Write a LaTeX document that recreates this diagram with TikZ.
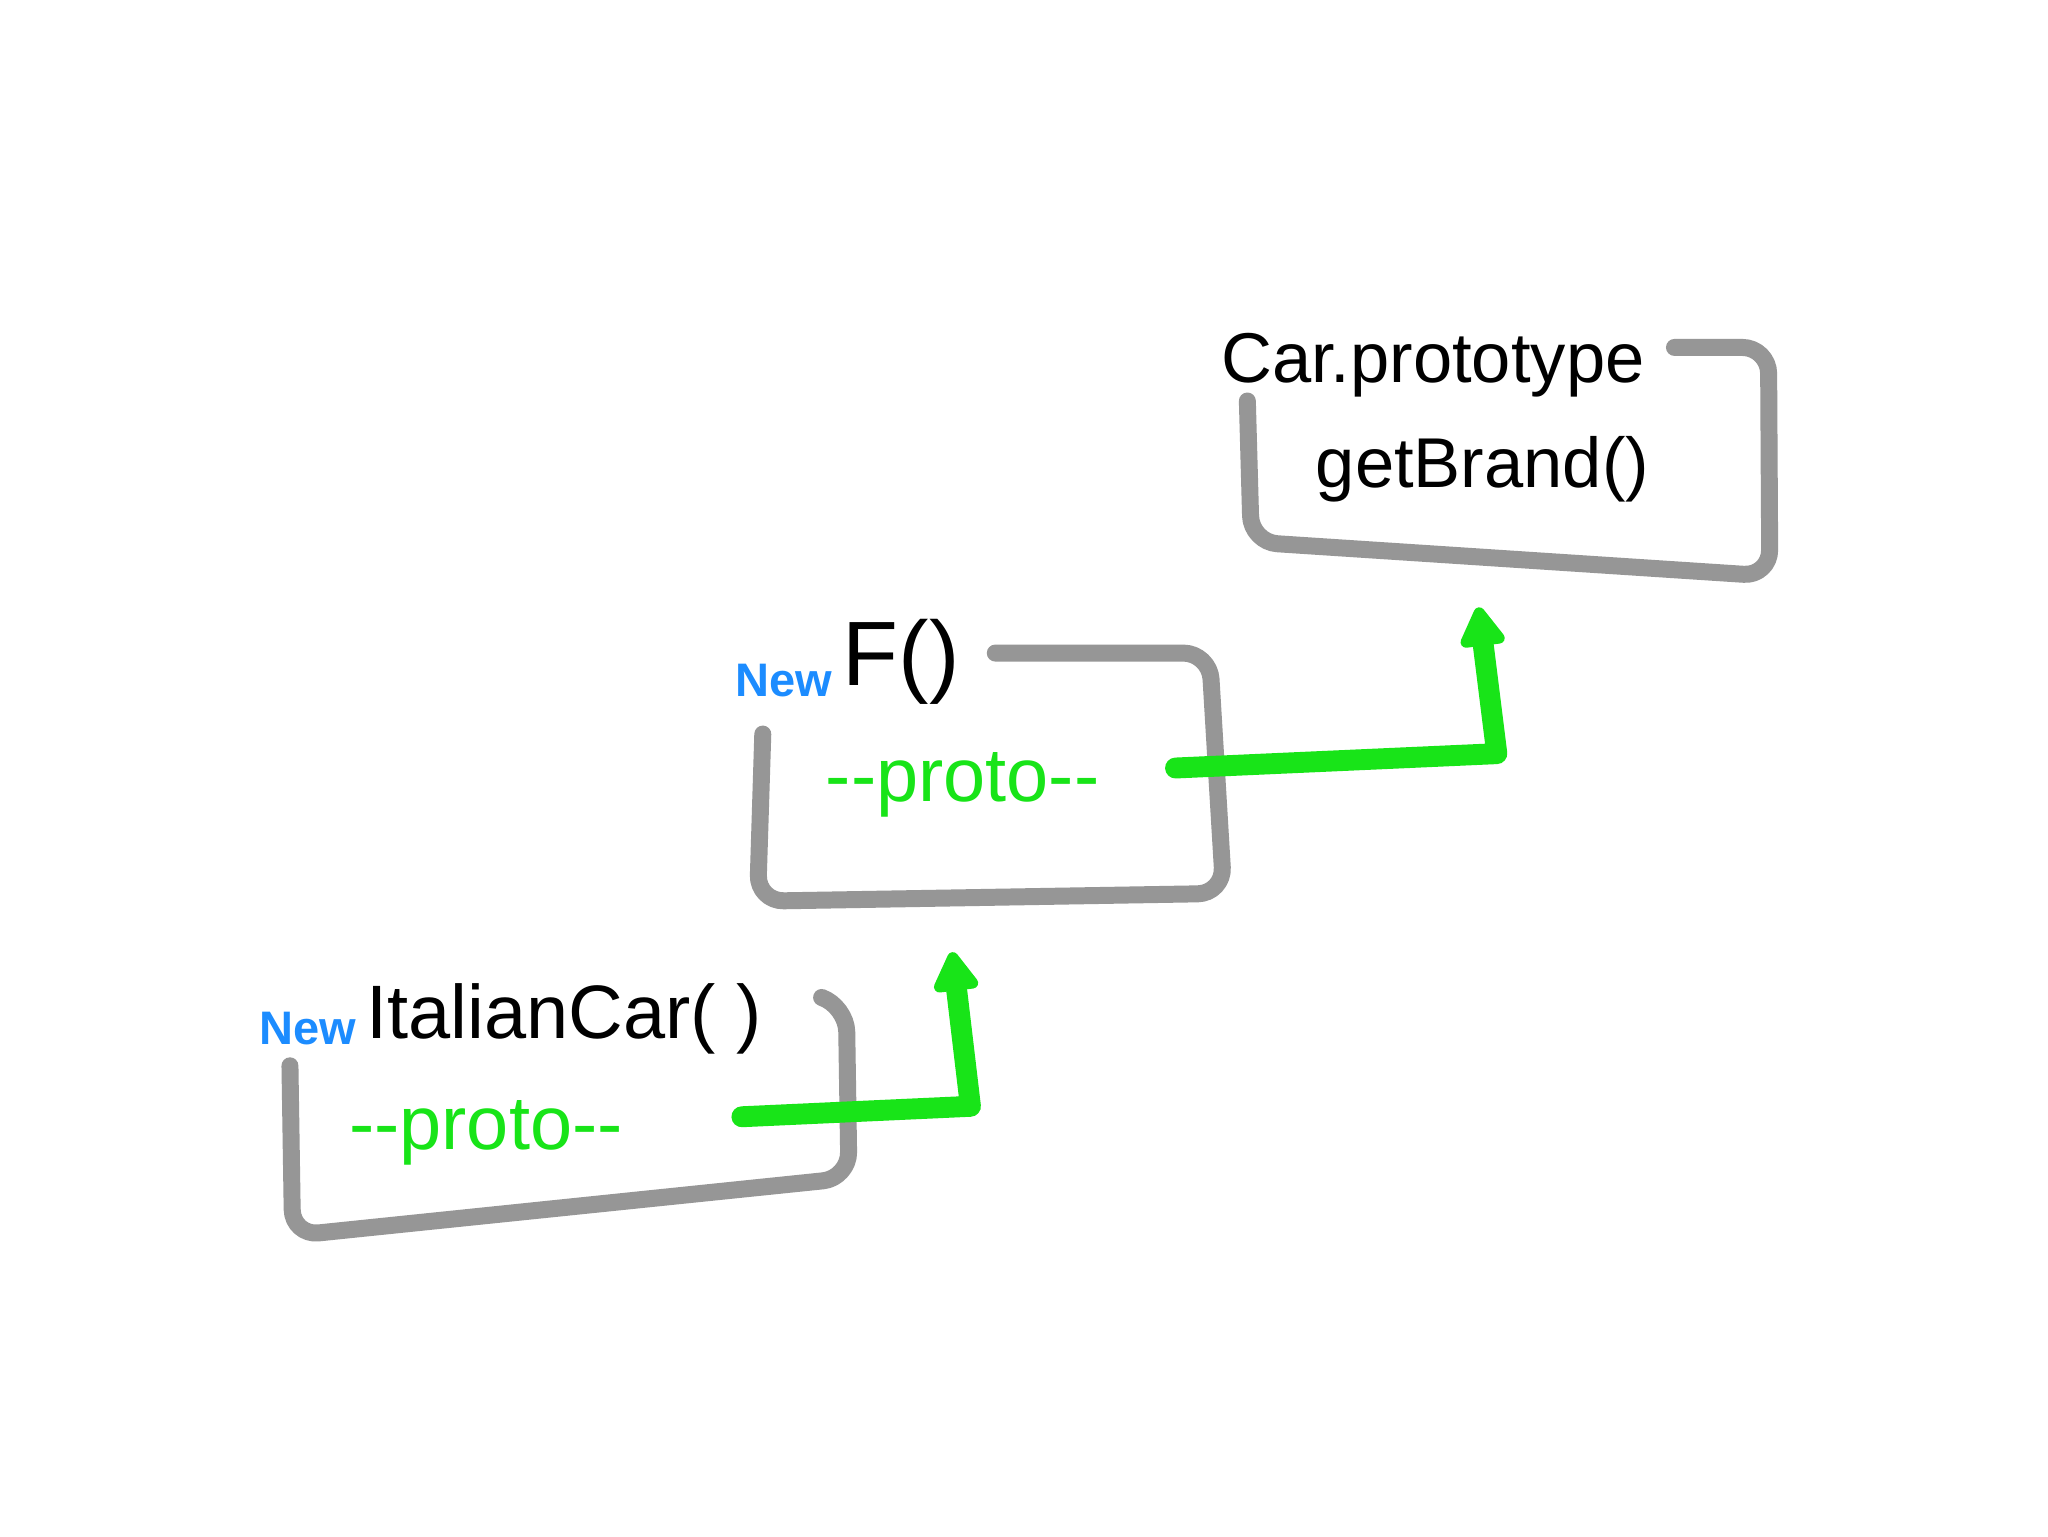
\documentclass[tikz,border=0pt]{standalone}
\usepackage{fontspec}
\setmainfont{Liberation Sans}
\usetikzlibrary{arrows.meta}
\definecolor{boxgray}{RGB}{150,150,150}
\definecolor{pgreen}{RGB}{24,228,24}
\definecolor{nblue}{RGB}{28,140,255}
\begin{document}
\begin{tikzpicture}[x=1pt,y=-1pt,
  frame/.style={draw=boxgray,line width=13pt,line cap=round,line join=round,rounded corners=20pt},
  link/.style={draw=pgreen,line width=16pt,line cap=round,line join=round,
    -{Triangle[length=34pt,width=38pt,round]}},
  lbl/.style={inner sep=0pt,anchor=base},
  big/.style={lbl,font=\fontsize{54}{60}\selectfont},
  kw/.style={lbl,text=nblue,font=\bfseries\fontsize{36}{40}\selectfont},
  proto/.style={lbl,text=pgreen,font=\fontsize{58}{64}\selectfont}]
\useasboundingbox[fill=white] (0,0) rectangle (1568,1176);

% boxes
\draw[frame] (1282,266) -- (1354,266) -- (1355,441) -- (958,415) -- (955,307);
\draw[frame] (762,500) -- (926,500) -- (937,684) -- (580,690) -- (584,562);
\draw[frame] (630,764) -- (648,770) -- (650,902) -- (224,946) -- (222,816);

% texts
\node[big] (carproto) at (1097,293) {Car.prototype};
\node[big] (getbrand) at (1135,373) {getBrand()};
\node[kw] (new2) at (600,533) {New};
\node[lbl,font=\fontsize{70}{76}\selectfont] (fcall) at (690,525) {F()};
\node[kw] (new1) at (236,800) {New};
\node[lbl,font=\fontsize{58}{64}\selectfont] (italian) at (432,795) {ItalianCar( )};
\node[proto] (proto2) at (737,614) {{-}{-}proto{-}{-}};
\node[proto] (proto1) at (372,880) {{-}{-}proto{-}{-}};

% connectors
\coordinate (s1) at (568,855);
\coordinate (c1) at (743,847);
\coordinate (t1) at (729,729);
\coordinate (s2) at (900,588);
\coordinate (c2) at (1146,577);
\coordinate (t2) at (1132,465);
\draw[link] (s1) -- (c1) -- (t1);
\draw[link] (s2) -- (c2) -- (t2);
\end{tikzpicture}
\end{document}
